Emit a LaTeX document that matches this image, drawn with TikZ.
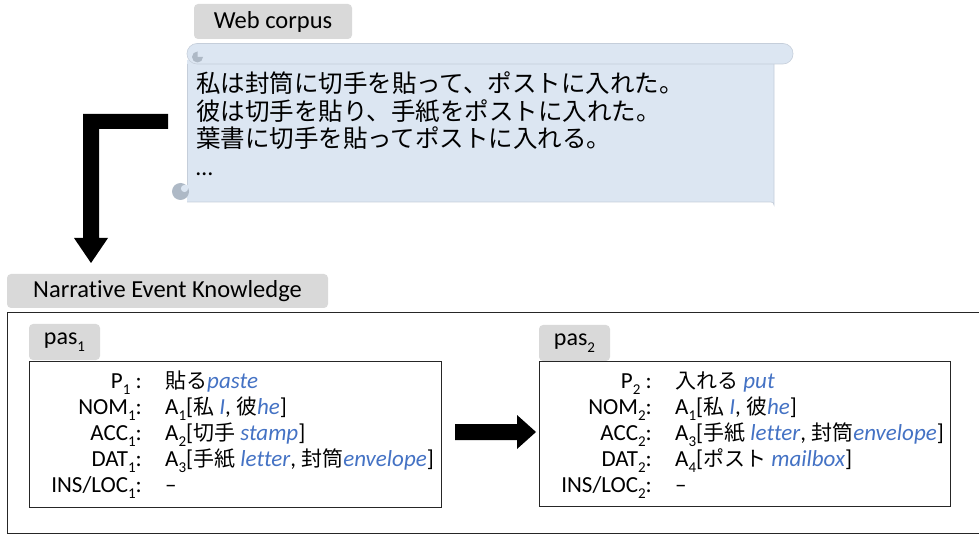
\documentclass[tikz,border=0pt]{standalone}
\usepackage{fontspec}
\setmainfont[Ligatures=NoCommon]{Carlito}
\newfontfamily\jp{Noto Sans CJK JP}
\definecolor{tabgray}{HTML}{D9D9D9}
\definecolor{scrollfill}{HTML}{DCE6F2}
\definecolor{scrollline}{HTML}{C5CEDA}
\definecolor{curlgray}{HTML}{AEB9C6}
\definecolor{engblue}{HTML}{4472C4}
\definecolor{boxline}{HTML}{262626}
\newcommand\en[1]{\textcolor{engblue}{\itshape #1}}
\newcommand\sbs[1]{\raisebox{-0.27em}{\fontsize{15}{15}\selectfont #1}}
\newcommand\J[1]{{\jp\fontsize{21}{25}\selectfont #1}}
\begin{document}
\begin{tikzpicture}[x=1pt,y=-1pt,
  tab/.style={fill=tabgray, rounded corners=4pt, inner sep=0pt, font=\fontsize{24.5}{28}\selectfont},
  pastab/.style={fill=tabgray, rounded corners=4pt, inner sep=0pt, font=\fontsize{24}{28}\selectfont},
  corpus/.style={anchor=base west, inner sep=0pt, font=\fontsize{24.5}{28}\selectfont\jp},
  lab/.style={anchor=base east, inner sep=0pt, font=\fontsize{23}{27}\selectfont},
  val/.style={anchor=base west, inner sep=0pt, font=\fontsize{23}{27}\selectfont},
  pasbox/.style={draw=boxline, line width=0.9pt, anchor=north west, inner sep=0pt},
  blockarrow/.style={fill=black, draw=none}]
\useasboundingbox (0,0) rectangle (979,534);
\clip (0,0) rectangle (979,534);

% ---------- Web corpus ----------
\node[tab, minimum width=158pt, minimum height=35pt] (webtab) at (273,21.5) {Web corpus};

% scroll body
\fill[scrollfill] (187,60) -- (187,202) -- (771,202) arc[start angle=90, end angle=0, radius=3pt] -- (774,60) -- cycle;
\draw[draw=scrollline, line width=0.6pt] (187,64) -- (187,192);
\draw[draw=scrollline, line width=0.6pt] (187,202) -- (771,202) arc[start angle=90, end angle=0, radius=3pt] -- (774,64);
% top bar
\draw[fill=scrollfill, draw=scrollline, line width=0.6pt, rounded corners=10pt]
  (187,43.5) rectangle (793,64);
% top-left small curl
\fill[curlgray] (192,57) arc[start angle=180, end angle=360, radius=5.5pt] -- cycle;
\fill[curlgray] (192,57) arc[start angle=180, end angle=90, radius=5.5pt] -- (197.5,57) -- cycle;
% bottom-left curl
\fill[curlgray] (180.5,191.5) circle[radius=8.5pt];
\fill[scrollfill] (184.5,188.5) circle[radius=3.6pt];
\fill[scrollfill] (184.5,184.9) rectangle (188.6,188.5);

\node[corpus] (c1) at (196,93) {私は封筒に切手を貼って、ポストに入れた。};
\node[corpus] (c2) at (196,120.5) {彼は切手を貼り、手紙をポストに入れた。};
\node[corpus] (c3) at (196,148) {葉書に切手を貼ってポストに入れる。};
\node[corpus, font=\fontsize{24}{28}\selectfont] (c4) at (196,175.5) {…};

% L-shaped block arrow
\fill[blockarrow] (168,114) -- (83,114) -- (83,238) -- (74,238) -- (91,263)
  -- (108,238) -- (99,238) -- (99,129) -- (168,129) -- cycle;

% ---------- Narrative Event Knowledge ----------
\node[tab, minimum width=321pt, minimum height=34pt] (nektab) at (167.5,291) {Narrative Event Knowledge};
\draw[draw=boxline, line width=0.8pt] (7,312.5) rectangle (990,533);

% pas1
\node[pastab, minimum width=71pt, minimum height=36pt] (pastab1) at (64.5,342) {pas\sbs{1}};
\node[pasbox, minimum width=412pt, minimum height=146pt] (box1) at (29,361) {};
\node[lab] (l11) at (142,388) {P\sbs{1} :};
\node[lab] (l12) at (142,414) {NOM\sbs{1}:};
\node[lab] (l13) at (142,440) {ACC\sbs{1}:};
\node[lab] (l14) at (142,466) {DAT\sbs{1}:};
\node[lab] (l15) at (142,492) {INS/LOC\sbs{1}:};
\node[val] (v11) at (165,388) {\J{貼る}\en{paste}};
\node[val] (v12) at (165,414) {A\sbs{1}[\J{私} \en{I}, \J{彼}\en{he}]};
\node[val] (v13) at (165,440) {A\sbs{2}[\J{切手} \en{stamp}]};
\node[val] (v14) at (165,466) {A\sbs{3}[\J{手紙} \en{letter}, \J{封筒}\en{envelope}]};
\node[val] (v15) at (165,492) {–};

% middle block arrow
\fill[blockarrow] (455,424) -- (517,424) -- (517,415) -- (536,432) -- (517,449)
  -- (517,440) -- (455,440) -- cycle;

% pas2
\node[pastab, minimum width=71pt, minimum height=36pt] (pastab2) at (574.5,343) {pas\sbs{2}};
\node[pasbox, minimum width=411pt, minimum height=145pt] (box2) at (539,361) {};
\node[lab] (l21) at (652,388) {P\sbs{2} :};
\node[lab] (l22) at (652,414) {NOM\sbs{2}:};
\node[lab] (l23) at (652,440) {ACC\sbs{2}:};
\node[lab] (l24) at (652,466) {DAT\sbs{2}:};
\node[lab] (l25) at (652,492) {INS/LOC\sbs{2}:};
\node[val] (v21) at (675,388) {\J{入れる} \en{put}};
\node[val] (v22) at (675,414) {A\sbs{1}[\J{私} \en{I}, \J{彼}\en{he}]};
\node[val] (v23) at (675,440) {A\sbs{3}[\J{手紙} \en{letter}, \J{封筒}\en{envelope}]};
\node[val] (v24) at (675,466) {A\sbs{4}[\J{ポスト} \en{mailbox}]};
\node[val] (v25) at (675,492) {–};
\end{tikzpicture}
\end{document}
